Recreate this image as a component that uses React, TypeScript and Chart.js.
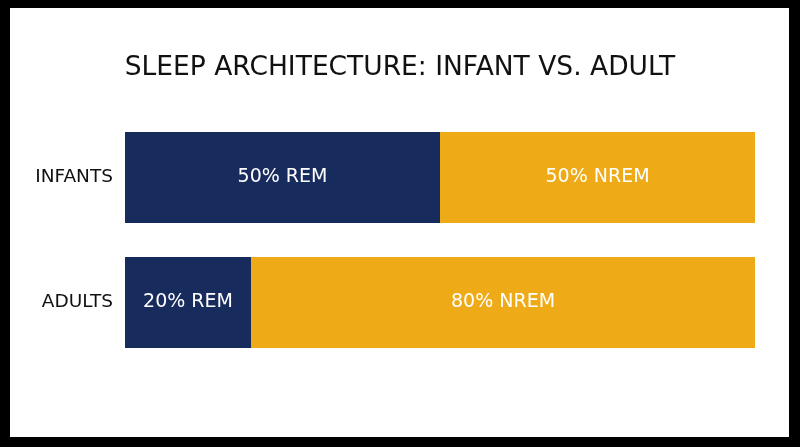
import { useEffect, useRef } from "react";
import { Chart, registerables } from "chart.js";

Chart.register(...registerables);

const groups = ["INFANTS", "ADULTS"];
const remShare = [50, 20];
const nremShare = [50, 80];
const stageNames = ["REM", "NREM"];
const heading = "SLEEP ARCHITECTURE: INFANT VS. ADULT";

const FONT = "'DejaVu Sans', sans-serif";

// writes "50% REM" etc. in the middle of each bar piece
const barText = {
  id: "barText",
  afterDatasetsDraw(chart: any) {
    const ctx = chart.ctx;
    ctx.save();
    ctx.font = `400 19px ${FONT}`;
    ctx.fillStyle = "#ffffff";
    ctx.textAlign = "center";
    ctx.textBaseline = "middle";
    chart.data.datasets.forEach((ds: any, i: number) => {
      const meta = chart.getDatasetMeta(i);
      meta.data.forEach((bar: any, j: number) => {
        const { x, y, base } = bar.getProps(["x", "y", "base"], true);
        ctx.fillText(`${ds.data[j]}% ${stageNames[i]}`, (x + base) / 2, y);
      });
    });
    ctx.restore();
  },
};

// page-centred heading (the built-in title centres on the padded box instead)
const pageTitle = {
  id: "pageTitle",
  afterDraw(chart: any) {
    const ctx = chart.ctx;
    ctx.save();
    ctx.font = `400 26.5px ${FONT}`;
    ctx.fillStyle = "#111111";
    ctx.textAlign = "center";
    ctx.textBaseline = "middle";
    ctx.fillText(heading, chart.width / 2, 68);
    ctx.restore();
  },
};

const App = () => {
  const canvasRef = useRef<HTMLCanvasElement>(null);

  useEffect(() => {
    document.body.style.margin = "0";
    const myChart = new Chart(canvasRef.current!, {
      type: "bar",
      data: {
        labels: groups,
        datasets: [
          {
            label: stageNames[0],
            data: remShare,
            backgroundColor: "#182b5d",
            barPercentage: 0.728,
            categoryPercentage: 1,
          },
          {
            label: stageNames[1],
            data: nremShare,
            backgroundColor: "#eeaa17",
            barPercentage: 0.728,
            categoryPercentage: 1,
          },
        ],
      },
      options: {
        animation: false,
        responsive: false,
        indexAxis: "y",
        layout: { padding: { left: 10, right: 45, top: 115, bottom: 82 } },
        scales: {
          x: { stacked: true, min: 0, max: 100, display: false },
          y: {
            stacked: true,
            border: { display: false },
            grid: { display: false },
            ticks: {
              color: "#111111",
              font: { family: FONT, size: 18.5 },
              padding: 4,
            },
            afterFit: (s: any) => {
              s.width = 115;
            },
          },
        },
        plugins: {
          legend: { display: false },
          tooltip: { enabled: false },
          title: { display: false },
        },
      },
      plugins: [barText, pageTitle],
    });
    return () => myChart.destroy();
  }, []);

  return (
    <div style={{ position: "absolute", left: 0, top: 0, width: 800, height: 447, background: "#000" }}>
      <div style={{ position: "absolute", left: 10, top: 8, width: 779, height: 429, background: "#fff" }} />
      <canvas ref={canvasRef} width={800} height={447} style={{ position: "absolute", left: 0, top: 0 }} />
    </div>
  );
};
export default App;
